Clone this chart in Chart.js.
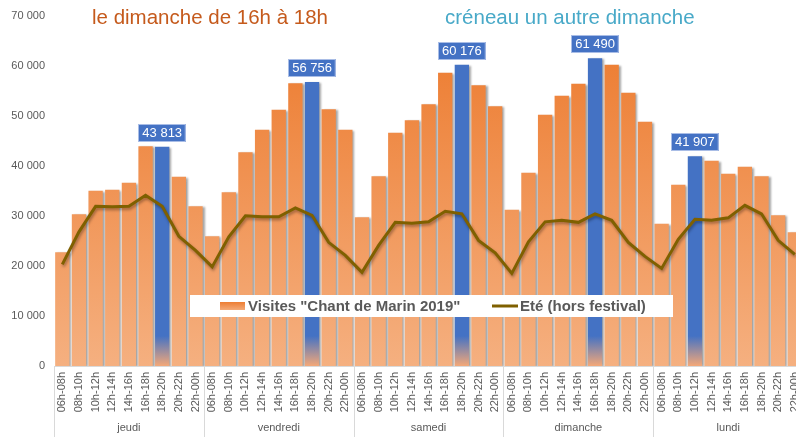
<!DOCTYPE html>
<html>
<head>
<meta charset="utf-8">
<script src="https://cdn.jsdelivr.net/npm/chart.js@4.4.1/dist/chart.umd.min.js"></script>
<style>
  html, body { margin: 0; padding: 0; background: #ffffff; overflow: hidden; }
  #wrap { position: relative; width: 796px; height: 437px; overflow: hidden; }
  canvas { position: absolute; left: 0; top: 0; }
</style>
</head>
<body>
<div id="wrap"><canvas id="c" width="814" height="437"></canvas></div>
<script>
// ---- data ----
const days = ['jeudi', 'vendredi', 'samedi', 'dimanche', 'lundi'];
const slots = ['06h-08h', '08h-10h', '10h-12h', '12h-14h', '14h-16h', '16h-18h', '18h-20h', '20h-22h', '22h-00h'];

const visitesJeudi    = [22700, 30300, 35000, 35200, 36600, 43900, 43813, 37800, 31900];
const visitesVendredi = [25900, 34700, 42700, 47200, 51200, 56500, 56756, 51300, 47200];
const visitesSamedi   = [29700, 37900, 46600, 49100, 52300, 58600, 60176, 56100, 51900];
const visitesDimanche = [31200, 38600, 50200, 54000, 56400, 61490, 60200, 54600, 48800];
const visitesLundi    = [28400, 36200, 41907, 41000, 38400, 39800, 37900, 30100, 26700];

const eteJeudi    = [20300, 26800, 31900, 31800, 31900, 34100, 31900, 25900, 23100];
const eteVendredi = [19800, 25800, 30000, 29800, 29800, 31600, 30100, 24700, 22100];
const eteSamedi   = [18700, 24100, 28700, 28500, 28800, 30900, 30400, 25100, 22600];
const eteDimanche = [18500, 24800, 28800, 29100, 28700, 30400, 29100, 24700, 21900];
const eteLundi    = [19500, 25300, 29300, 29100, 29600, 32100, 30400, 25100, 22300];

// highlighted (day, slot) pairs: peak slot per day
const highlights = [['jeudi', '18h-20h'], ['vendredi', '18h-20h'], ['samedi', '18h-20h'], ['dimanche', '16h-18h'], ['lundi', '10h-12h']];

const yTicks = [0, 10000, 20000, 30000, 40000, 50000, 60000, 70000];

const seriesVisites = 'Visites "Chant de Marin 2019"';
const seriesEte = 'Eté (hors festival)';
const titleLeft = 'le dimanche de 16h à 18h';
const titleRight = 'créneau un autre dimanche';

// ---- build tables ----
const labels = [];
days.forEach(() => slots.forEach(s => labels.push(s)));
const visites = [].concat(visitesJeudi, visitesVendredi, visitesSamedi, visitesDimanche, visitesLundi);
const ete = [].concat(eteJeudi, eteVendredi, eteSamedi, eteDimanche, eteLundi);
const hiIdx = highlights.map(([d, s]) => days.indexOf(d) * slots.length + slots.indexOf(s));

const FONT = '"Liberation Sans", Arial, sans-serif';
const GRAY = '#595959';
const BLUE = '#4472c4';
const OLIVE = '#7f6000';

function orangeGrad(ctx, area) {
  const g = ctx.createLinearGradient(0, area.top, 0, area.bottom);
  g.addColorStop(0, '#ec782a');
  g.addColorStop(1, '#f5b080');
  return g;
}

function barColor(c) {
  const chart = c.chart;
  const area = chart.chartArea;
  if (!area) return '#ed7d31';
  if (hiIdx.includes(c.dataIndex)) {
    const g = chart.ctx.createLinearGradient(0, area.top, 0, area.bottom);
    const h = area.bottom - area.top;
    g.addColorStop(0, BLUE);
    g.addColorStop((h - 30) / h, BLUE);
    g.addColorStop(1, '#f4a878');
    return g;
  }
  return orangeGrad(chart.ctx, area);
}

const shadowPlugin = {
  id: 'shadow',
  beforeDatasetDraw(chart, args) {
    const ctx = chart.ctx;
    ctx.save();
    if (args.meta.type === 'bar') {
      ctx.shadowColor = 'rgba(0,0,0,0.35)';
      ctx.shadowBlur = 2;
      ctx.shadowOffsetX = 2;
      ctx.shadowOffsetY = 1;
    } else {
      ctx.shadowColor = 'rgba(0,0,0,0.35)';
      ctx.shadowBlur = 3;
      ctx.shadowOffsetX = 1;
      ctx.shadowOffsetY = 2;
    }
  },
  afterDatasetDraw(chart) { chart.ctx.restore(); }
};

const decorPlugin = {
  id: 'decor',
  afterDatasetsDraw(chart) {
    const ctx = chart.ctx;
    const meta = chart.getDatasetMeta(1);
    // value labels
    ctx.save();
    ctx.font = '13px ' + FONT;
    hiIdx.forEach(i => {
      const el = meta.data[i];
      const txt = String(visites[i]).replace(/\B(?=(\d{3})+(?!\d))/g, ' ');
      const w = ctx.measureText(txt).width + 8;
      const h = 18;
      const x0 = Math.round(el.x - w / 2);
      const y0 = Math.round(el.y - 5 - h);
      ctx.fillStyle = BLUE;
      ctx.fillRect(x0, y0, w, h);
      ctx.strokeStyle = '#a9bde6';
      ctx.lineWidth = 1;
      ctx.strokeRect(x0 + 0.5, y0 + 0.5, w - 1, h - 1);
      ctx.fillStyle = '#ffffff';
      ctx.textAlign = 'center';
      ctx.textBaseline = 'middle';
      ctx.fillText(txt, el.x, y0 + h / 2 + 0.5);
    });
    ctx.restore();

    // legend box
    ctx.save();
    ctx.fillStyle = '#ffffff';
    ctx.fillRect(190, 295, 483, 22);
    ctx.fillStyle = orangeGrad(ctx, {top: 301, bottom: 311});
    ctx.fillRect(220, 302, 25, 8);
    ctx.font = 'bold 15px ' + FONT;
    ctx.fillStyle = GRAY;
    ctx.textBaseline = 'middle';
    ctx.textAlign = 'left';
    ctx.fillText(seriesVisites, 248, 306.5);
    ctx.strokeStyle = OLIVE;
    ctx.lineWidth = 3;
    ctx.beginPath();
    ctx.moveTo(492, 306);
    ctx.lineTo(518, 306);
    ctx.stroke();
    ctx.fillText(seriesEte, 520, 306.5);
    ctx.restore();
  },
  afterDraw(chart) {
    const ctx = chart.ctx;
    const area = chart.chartArea;
    const xs = chart.scales.x;
    const slotW = (xs.right - xs.left) / labels.length;
    ctx.save();
    // axis line
    ctx.strokeStyle = '#d9d9d9';
    ctx.lineWidth = 1;
    ctx.beginPath();
    ctx.moveTo(xs.left, area.bottom + 0.5);
    ctx.lineTo(xs.right, area.bottom + 0.5);
    ctx.stroke();
    // group separators + day labels
    ctx.font = '11px ' + FONT;
    ctx.fillStyle = GRAY;
    ctx.textAlign = 'center';
    ctx.textBaseline = 'middle';
    days.forEach((d, k) => {
      const xl = Math.round(xs.left + k * slots.length * slotW) + 0.5;
      ctx.beginPath();
      ctx.moveTo(xl, area.bottom);
      ctx.lineTo(xl, 437);
      ctx.stroke();
      const xc = xs.left + (k + 0.5) * slots.length * slotW;
      ctx.fillText(d, xc, 428);
    });
    // titles
    ctx.font = '20.5px ' + FONT;
    ctx.textAlign = 'left';
    ctx.fillStyle = '#c55a1c';
    ctx.fillText(titleLeft, 92, 18);
    ctx.fillStyle = '#48a9c8';
    ctx.fillText(titleRight, 445, 18);
    ctx.restore();
  }
};

new Chart(document.getElementById('c'), {
  data: {
    labels: labels,
    datasets: [
      {
        type: 'line',
        label: seriesEte,
        data: ete,
        borderColor: OLIVE,
        borderWidth: 3,
        pointRadius: 0,
        tension: 0,
        order: 0
      },
      {
        type: 'bar',
        label: seriesVisites,
        data: visites,
        backgroundColor: barColor,
        borderWidth: 0,
        barPercentage: 0.86,
        categoryPercentage: 1.0,
        order: 1
      }
    ]
  },
  options: {
    responsive: false,
    animation: false,
    devicePixelRatio: 1,
    layout: { padding: { top: 15, left: 0, right: 0, bottom: 0 } },
    plugins: { legend: { display: false }, tooltip: { enabled: false }, title: { display: false } },
    scales: {
      x: {
        type: 'category',
        offset: true,
        grid: { display: false, drawTicks: false },
        border: { display: false },
        ticks: {
          autoSkip: false,
          minRotation: 90,
          maxRotation: 90,
          padding: 6,
          color: GRAY,
          font: { family: FONT, size: 11 }
        },
        afterFit(s) { s.height = 71; }
      },
      y: {
        min: 0,
        max: 70000,
        afterBuildTicks(s) { s.ticks = yTicks.map(v => ({ value: v })); },
        grid: { display: false, drawTicks: false },
        border: { display: false },
        ticks: {
          padding: 9,
          color: GRAY,
          font: { family: FONT, size: 11 },
          callback: v => String(v).replace(/\B(?=(\d{3})+(?!\d))/g, ' ')
        },
        afterFit(s) { s.width = 54; }
      }
    }
  },
  plugins: [shadowPlugin, decorPlugin]
});
</script>
</body>
</html>
